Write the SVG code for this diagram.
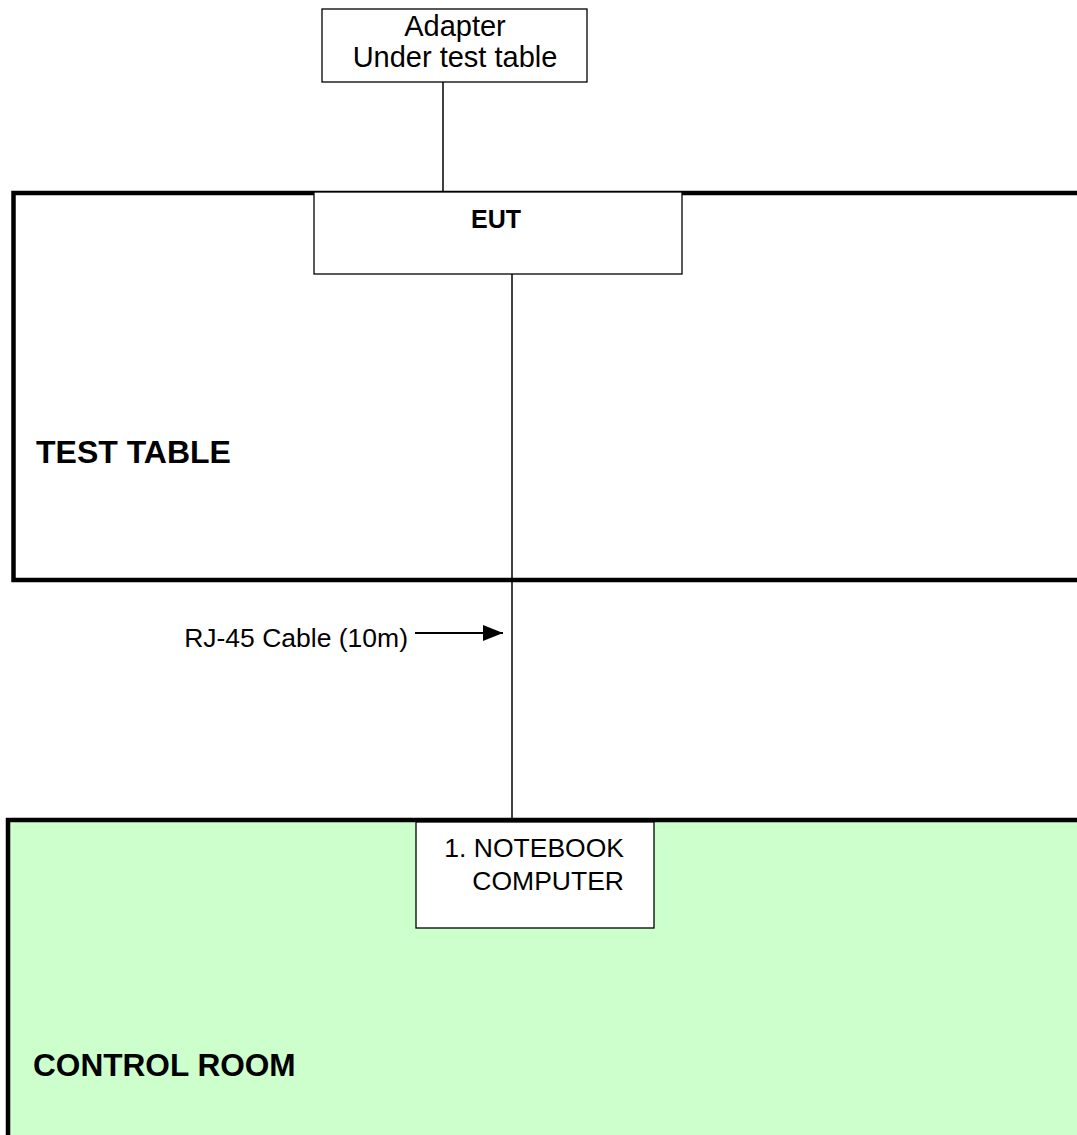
<svg xmlns="http://www.w3.org/2000/svg" width="1077" height="1135" viewBox="0 0 1077 1135">
<style>
text{font-family:"Liberation Sans",Arial,sans-serif;fill:#000}
.box{fill:#fff;stroke:#000;stroke-width:1.3}
.area{stroke:#000;stroke-width:4.5}
.wire{stroke:#000;stroke-width:1.5;fill:none}
.lbl{font-size:26.5px}
.big{font-weight:bold}
</style>
<defs>
<marker id="ah" markerWidth="20" markerHeight="18" refX="20" refY="9" orient="auto" markerUnits="userSpaceOnUse" viewBox="0 0 20 18">
<path d="M0,1 L20,9 L0,17 z" fill="#000"/>
</marker>
</defs>
<rect width="1077" height="1135" fill="#fff"/>
<g id="test-table">
<rect class="area" x="13.5" y="193" width="1100" height="387" fill="#fff"/>
<text class="big" x="36" y="463" font-size="32">TEST TABLE</text>
</g>
<g id="control-room">
<rect class="area" x="8" y="820" width="1100" height="400" fill="#CCFFCC"/>
<text class="big" x="33" y="1076" font-size="31.6">CONTROL ROOM</text>
</g>
<g id="connectors">
<line class="wire" x1="443" y1="82" x2="443" y2="193"/>
<line class="wire" x1="512" y1="274" x2="512" y2="822"/>
<line class="wire" x1="415" y1="633" x2="503" y2="633" marker-end="url(#ah)" style="stroke-width:1.8"/>
</g>
<g id="adapter">
<rect class="box" x="322" y="9" width="265" height="73"/>
<text x="455" y="36" font-size="29" text-anchor="middle">Adapter</text>
<text x="455" y="67" font-size="29" text-anchor="middle">Under test table</text>
</g>
<g id="eut">
<rect class="box" x="314" y="192" width="368" height="82"/>
<text x="496" y="228" font-size="25" font-weight="bold" text-anchor="middle">EUT</text>
</g>
<g id="cable-label">
<text class="lbl" x="408" y="647" text-anchor="end">RJ-45 Cable (10m)</text>
</g>
<g id="notebook">
<rect class="box" x="416" y="822" width="238" height="106"/>
<text class="lbl" x="624" y="857" text-anchor="end">1. NOTEBOOK</text>
<text class="lbl" x="624" y="890" text-anchor="end">COMPUTER</text>
</g>
</svg>
